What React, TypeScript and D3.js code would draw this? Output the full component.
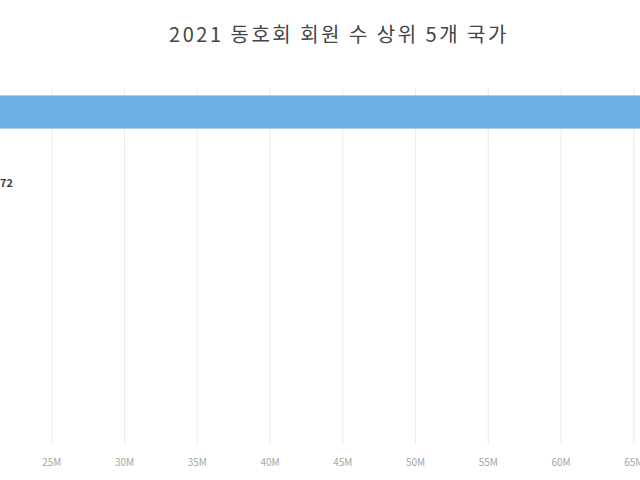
import React, { useEffect, useRef } from 'react'
import * as d3 from 'd3'

const countries = ['미국', '중국', '일본', '독일', '영국']
const members = [78500000, 17862372, 12100000, 9800000, 8400000]
const tickValues = [25, 30, 35, 40, 45, 50, 55, 60, 65].map(d => d * 1e6)
const title = '2021 동호회 회원 수 상위 5개 국가'

export default function App() {
  const svgRef = useRef<SVGSVGElement>(null)

  useEffect(() => {
    const svg = d3.select(svgRef.current)
    svg.selectAll('*').remove()

    const width = 640
    const height = 480
    const font = '"Noto Sans CJK KR", "Noto Sans", sans-serif'

    // the picture is a zoomed crop, so 0 sits well off the left edge
    const x = d3.scaleLinear().domain([0, 80e6]).range([-312, 852])
    const y = d3.scaleBand<string>().domain(countries).range([76, 436]).paddingInner(0.54).paddingOuter(0.27)

    svg.attr('width', width).attr('height', height)

    svg.append('rect').attr('width', width).attr('height', height).attr('fill', '#fff')

    // grid lines
    svg.append('g')
      .selectAll('line')
      .data(tickValues)
      .join('line')
      .attr('x1', d => x(d))
      .attr('x2', d => x(d))
      .attr('y1', 88)
      .attr('y2', 445)
      .attr('stroke', '#ebebeb')
      .attr('stroke-width', 1)

    // tick labels
    svg.append('g')
      .selectAll('text')
      .data(tickValues)
      .join('text')
      .attr('x', d => x(d))
      .attr('y', 466)
      .attr('text-anchor', 'middle')
      .style('font-family', font)
      .style('font-size', '10px')
      .style('fill', '#a6a6a6')
      .text(d => `${d / 1e6}M`)

    // bars
    svg.append('g')
      .selectAll('rect')
      .data(countries)
      .join('rect')
      .attr('x', x(0))
      .attr('y', (d) => y(d) as number)
      .attr('width', (_, i) => x(members[i]) - x(0))
      .attr('height', y.bandwidth())
      .attr('fill', '#6caee6')

    // value labels
    svg.append('g')
      .selectAll('text')
      .data(countries)
      .join('text')
      .attr('x', (_, i) => x(members[i]) + 6)
      .attr('y', d => (y(d) as number) + y.bandwidth() / 2)
      .attr('dominant-baseline', 'middle')
      .style('font-family', font)
      .style('font-size', '11px')
      .style('font-weight', '700')
      .style('fill', '#404040')
      .text((_, i) => d3.format(',')(members[i]))

    svg.append('text')
      .attr('x', 339)
      .attr('y', 42)
      .attr('text-anchor', 'middle')
      .style('font-family', font)
      .style('font-size', '20px')
      .style('letter-spacing', '2.5px')
      .style('fill', '#444')
      .text(title)
  }, [])

  return (
    <svg ref={svgRef} style={{ position: 'absolute', left: 0, top: 0, display: 'block' }} />
  )
}
